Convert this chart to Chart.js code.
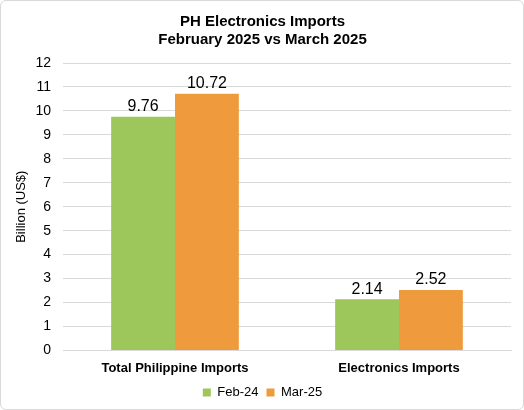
<html>
  <script src="https://cdn.jsdelivr.net/npm/chart.js"></script>
  <body style="margin:0;background:#fff">
    <div style="width:524px;height:410px;box-sizing:border-box;border:1px solid #d9d9d9;border-radius:6px">
      <canvas id="myChart"></canvas>
    </div>
  </body>
  <script>
    var categories = ["Total Philippine Imports", "Electronics Imports"];
    var feb24 = [9.76, 2.14];
    var mar25 = [10.72, 2.52];
    var yTicks = [0, 1, 2, 3, 4, 5, 6, 7, 8, 9, 10, 11, 12];

    Chart.defaults.font.family = "'Liberation Sans', Arial, sans-serif";
    Chart.defaults.color = "#000";

    // value labels above bars
    var barLabels = {
      id: "barLabels",
      afterDatasetsDraw(chart) {
        var ctx = chart.ctx;
        ctx.save();
        ctx.font = "16px 'Liberation Sans', Arial, sans-serif";
        ctx.fillStyle = "#000";
        ctx.textAlign = "center";
        ctx.textBaseline = "bottom";
        chart.data.datasets.forEach((ds, i) => {
          chart.getDatasetMeta(i).data.forEach((bar, j) => {
            ctx.fillText(ds.data[j].toFixed(2), bar.x, bar.y - 2);
          });
        });
        ctx.restore();
      }
    };

    var dataObj = {
      type: "bar",
      data: {
        labels: categories,
        datasets: [
          { label: "Feb-24", data: feb24, backgroundColor: "#9DC75B", categoryPercentage: 0.57, barPercentage: 1 },
          { label: "Mar-25", data: mar25, backgroundColor: "#F09A3E", categoryPercentage: 0.57, barPercentage: 1 }
        ]
      },
      options: {
        responsive: true,
        maintainAspectRatio: false,
        animation: false,
        layout: { padding: { left: 13, right: 12, top: 4, bottom: 0 } },
        plugins: {
          title: {
            display: true,
            text: ["PH Electronics Imports", "February 2025 vs March 2025"],
            font: { size: 15, weight: "bold" },
            lineHeight: 1.15,
            padding: { top: 8, bottom: 14 }
          },
          legend: {
            position: "bottom",
            labels: { boxWidth: 8, boxHeight: 8, font: { size: 13 }, padding: 8 }
          },
          tooltip: { enabled: false }
        },
        scales: {
          x: {
            grid: { display: false },
            border: { color: "#d9d9d9" },
            ticks: { font: { size: 13, weight: "bold" }, padding: 2 }
          },
          y: {
            min: 0,
            max: 12,
            afterBuildTicks: (axis) => { axis.ticks = yTicks.map(v => ({ value: v })); },
            grid: { color: "#d9d9d9", drawTicks: false },
            border: { display: false },
            ticks: { font: { size: 14 }, padding: 12 },
            title: { display: true, text: "Billion (US$)", font: { size: 13 }, padding: 0 },
            afterFit: (axis) => { axis.width = 49; }
          }
        }
      },
      plugins: [barLabels]
    };
    const ctx = document.getElementById("myChart").getContext("2d");
    window.myLine = new Chart(ctx, dataObj);
  </script>
</html>
